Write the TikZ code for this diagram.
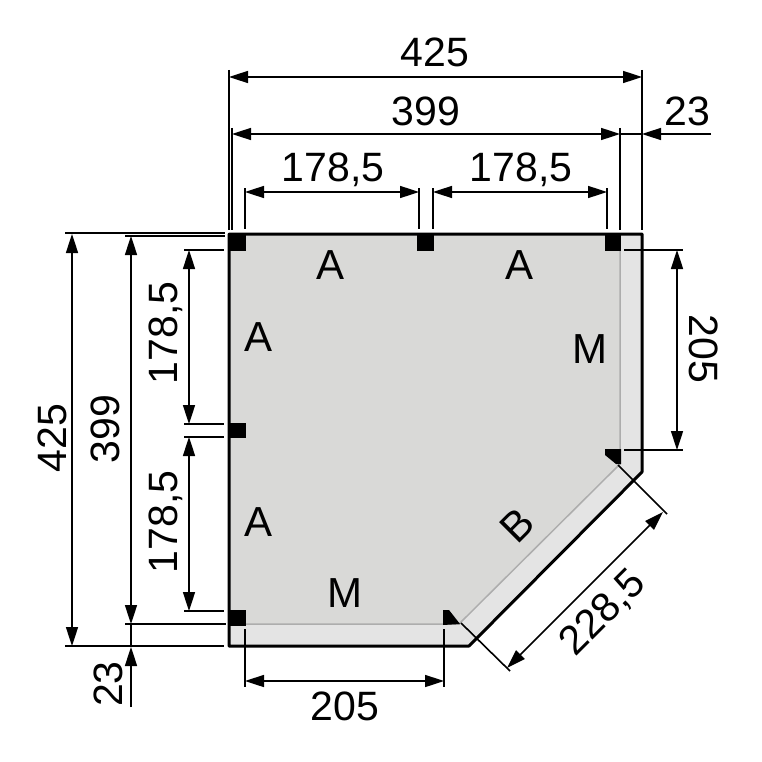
\documentclass[tikz,border=0pt]{standalone}
\usepackage{fontspec}
\setmainfont{Liberation Sans}
\usetikzlibrary{arrows.meta}
\tikzset{
    dimline/.style={black, line width=1.6pt, {Triangle[length=19pt,width=12pt]}-{Triangle[length=19pt,width=12pt]}},
    leftdim/.style={black, line width=1.6pt, -{Triangle[length=19pt,width=12pt]}},
    extline/.style={black, line width=1.6pt},
    post/.style={fill=black, draw=none},
    dimlabel/.style={font=\fontsize{41}{41}\selectfont, text=black, inner sep=0pt},
    floorlabel/.style={font=\fontsize{42}{42}\selectfont, text=black, inner sep=0pt}
}
\definecolor{floorgray}{HTML}{D9D9D7}
\definecolor{bandgray}{HTML}{E4E4E4}
\definecolor{innergray}{HTML}{ADADAD}

\begin{document}
\begin{tikzpicture}[x=1pt, y=-1pt]
\useasboundingbox[fill=white] (0,0) rectangle (761,762);

% floor
\fill[bandgray] (229,234) -- (642,234) -- (642,472) -- (469,646) -- (229,646) -- cycle;
\draw[innergray, line width=1.5pt, fill=floorgray] (229,234) -- (620,234) -- (620,464) -- (459,624) -- (229,624) -- cycle;
\draw[black, line width=3pt, line join=round] (229,234) -- (642,234) -- (642,472) -- (469,646) -- (229,646) -- cycle;

% posts
\fill[post] (228,233) rectangle (246,251);
\fill[post] (417,233) rectangle (434,251);
\fill[post] (605,233) rectangle (621,251);
\fill[post] (228,423) rectangle (246,438);
\fill[post] (228,610) rectangle (246,626);
\fill[post] (443,610) -- (449,610) -- (460,624) -- (443,625) -- cycle;
\fill[post] (605,449) -- (621,449) -- (621,464) -- (616,464) -- (605,455) -- cycle;

% top
\draw[extline] (229,70) -- (229,230);
\draw[extline] (642,70) -- (642,230);
\draw[dimline] (229,77) -- (642,77);
\node[dimlabel] (topTotal) at (435,52) {425};
\draw[extline] (232,128) -- (232,230);
\draw[extline] (620,128) -- (620,230);
\draw[dimline] (232,134) -- (620,134);
\node[dimlabel] (topInner) at (426,111) {399};
\draw[leftdim] (711,134) -- (642,134);
\draw[extline] (620,134) -- (642,134);
\node[dimlabel] (topBand) at (687,111) {23};
\draw[extline] (245,188) -- (245,229);
\draw[extline] (419,188) -- (419,229);
\draw[extline] (433,188) -- (433,229);
\draw[extline] (607,188) -- (607,229);
\draw[dimline] (245,192) -- (419,192);
\draw[dimline] (433,192) -- (607,192);
\node[dimlabel] (topLeftSpan) at (333,170) {178,5};
\node[dimlabel] (topRightSpan) at (521,170) {178,5};

% left
\draw[extline] (65,233) -- (225,233);
\draw[extline] (65,646) -- (224,646);
\draw[dimline] (72,234) -- (72,646);
\node[dimlabel, rotate=90] (leftTotal) at (52,438) {425};
\draw[extline] (125,236) -- (225,236);
\draw[extline] (125,624) -- (226,624);
\draw[dimline] (131,236) -- (131,624);
\node[dimlabel, rotate=90] (leftInner) at (105,429) {399};
\draw[leftdim] (131,707) -- (131,647);
\draw[extline] (131,624) -- (131,647);
\node[dimlabel, rotate=90] (leftBand) at (108,684) {23};
\draw[extline] (184,250) -- (224,250);
\draw[extline] (184,424) -- (224,424);
\draw[extline] (184,437) -- (224,437);
\draw[extline] (184,611) -- (224,611);
\draw[dimline] (189,250) -- (189,424);
\draw[dimline] (189,437) -- (189,611);
\node[dimlabel, rotate=90] (leftUpperSpan) at (166,333) {178,5};
\node[dimlabel, rotate=90] (leftLowerSpan) at (166,522) {178,5};

% right
\draw[extline] (624,250) -- (683,250);
\draw[extline] (624,450) -- (683,450);
\draw[dimline] (677,250) -- (677,450);
\node[dimlabel, rotate=-90] (rightSpan) at (704,349) {205};

% bottom
\draw[extline] (245,629) -- (245,687);
\draw[extline] (444,629) -- (444,687);
\draw[dimline] (245,681) -- (444,681);
\node[dimlabel] (bottomSpan) at (345,706) {205};

% diagonal
\draw[extline] (618,465) -- (667,514);
\draw[extline] (461,623) -- (510,671);
\draw[dimline] (663,512) -- (507,668);
\node[dimlabel, rotate=45] (diagSpan) at (603,613) {228,5};

% walls
\node[floorlabel] (wallTopLeft) at (331,265) {A};
\node[floorlabel] (wallTopRight) at (519,265) {A};
\node[floorlabel] (wallLeftUpper) at (259,337) {A};
\node[floorlabel] (wallLeftLower) at (259,522) {A};
\node[floorlabel] (wallRight) at (590,349) {M};
\node[floorlabel] (wallBottom) at (345,593) {M};
\node[floorlabel, rotate=45] (wallDiag) at (517,525) {B};
\end{tikzpicture}
\end{document}
